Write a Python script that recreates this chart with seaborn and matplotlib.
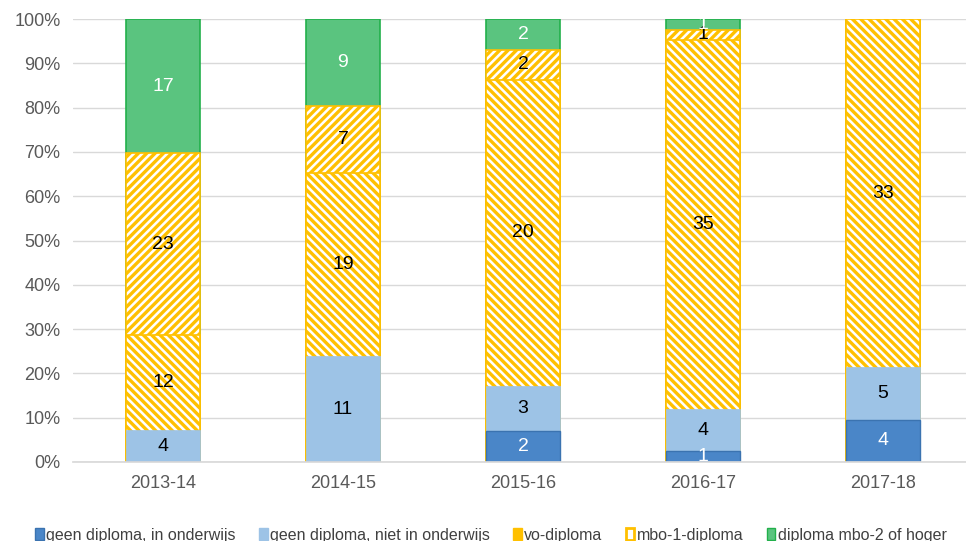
import numpy as np
import pandas as pd
import seaborn as sns
import matplotlib.pyplot as plt
from matplotlib.patches import Patch

jaren = ['2013-14', '2014-15', '2015-16', '2016-17', '2017-18']
reeksen = ['geen diploma, in onderwijs', 'geen diploma, niet in onderwijs',
           'vo-diploma', 'mbo-1-diploma', 'diploma mbo-2 of hoger']
geen_in_ow = [0, 0, 2, 1, 4]
geen_niet_ow = [4, 11, 3, 4, 5]
vo_diploma = [12, 19, 20, 35, 33]
mbo1_diploma = [23, 7, 2, 1, 0]
mbo2_hoger = [17, 9, 2, 1, 0]

sns.set_theme(style='white')
plt.rcParams['font.family'] = ['Liberation Sans', 'DejaVu Sans']
plt.rcParams['hatch.linewidth'] = 2.4

geel = '#ffc000'
stijl = [
    dict(color='#4a86c8', edgecolor='#3b73b0', linewidth=1.0, hatch=None, txt='white'),
    dict(color='#9dc3e6', edgecolor='#9dc3e6', linewidth=0.5, hatch=None, txt='black'),
    dict(color='white', edgecolor=geel, linewidth=1.2, hatch='\\\\\\\\', txt='black'),
    dict(color='white', edgecolor=geel, linewidth=1.2, hatch='////', txt='black'),
    dict(color='#5ac47f', edgecolor='#22b04b', linewidth=1.2, hatch=None, txt='white'),
]

df = pd.DataFrame(dict(zip(reeksen, [geen_in_ow, geen_niet_ow, vo_diploma,
                                     mbo1_diploma, mbo2_hoger])), index=jaren)
pct = df.div(df.sum(axis=1), axis=0) * 100
cum = pct.cumsum(axis=1)

fig = plt.figure(figsize=(9.66, 5.41), dpi=100)
ax = fig.add_axes([73 / 966, 79 / 541, 900 / 966, 443 / 541])

# stapelen door cumulatieve balken van boven naar beneden te tekenen
for i in range(len(reeksen) - 1, -1, -1):
    s = stijl[i]
    kw = dict(hatch=s['hatch']) if s['hatch'] else {}
    lw = s['linewidth'] if df[reeksen[i]].sum() > 0 else 0
    sns.barplot(x=jaren, y=cum[reeksen[i]].values, color=s['color'], saturation=1,
                edgecolor=s['edgecolor'], linewidth=lw, width=0.41, ax=ax, **kw)

for j, jaar in enumerate(jaren):
    for i, r in enumerate(reeksen):
        v = df.loc[jaar, r]
        if v > 0:
            y = cum.loc[jaar, r] - pct.loc[jaar, r] / 2
            ax.text(j, y, str(v), ha='center', va='center', fontsize=14,
                    color=stijl[i]['txt'])

ax.set_ylim(0, 100)
ax.set_xlim(-0.5, 4.5)
ax.set_yticks(range(0, 101, 10))
ax.set_yticklabels([f'{t}%' for t in range(0, 101, 10)])
ax.yaxis.grid(True, color='#d9d9d9', linewidth=1)
ax.set_axisbelow(True)
for k in ['top', 'right', 'left']:
    ax.spines[k].set_visible(False)
ax.spines['bottom'].set_color('#d9d9d9')
ax.tick_params(axis='both', length=0, labelsize=13, colors='#595959', pad=9)
ax.set_xlabel('')
ax.set_ylabel('')

handles = [Patch(facecolor=s['color'] if not s['hatch'] else 'white',
                 edgecolor=s['edgecolor'], hatch=s['hatch'], linewidth=1)
           for s in stijl]
handles[2] = Patch(facecolor=geel, edgecolor=geel, linewidth=1)
handles[3] = Patch(facecolor='white', edgecolor=geel, linewidth=2)
fig.legend(handles, reeksen, loc='lower center', ncol=5, bbox_to_anchor=(0.508, -0.03),
           frameon=False, fontsize=11.5, handlelength=0.55, handleheight=0.8,
           handletextpad=0.15, columnspacing=1.45, labelcolor='#404040')

fig.savefig('out.png', dpi=100)
